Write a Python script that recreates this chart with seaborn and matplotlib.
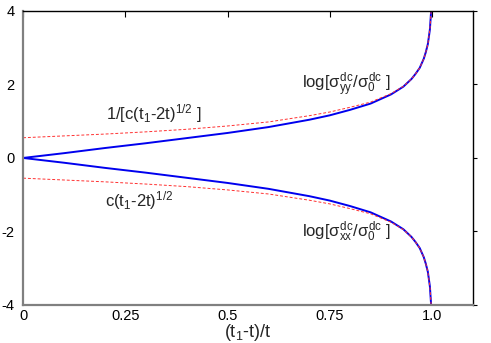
import numpy as np
import pandas as pd
import matplotlib
matplotlib.use("Agg")
import matplotlib.pyplot as plt
import seaborn as sns

# values
x_vals = [0, 0.1, 0.2, 0.3, 0.4, 0.5, 0.6, 0.7, 0.75, 0.8, 0.85, 0.9, 0.93,
          0.95, 0.96, 0.97, 0.98, 0.985, 0.99, 0.995, 0.998]
yy_exact = [0, 0.13, 0.27, 0.40, 0.54, 0.68, 0.84, 1.04, 1.16, 1.31, 1.48, 1.73,
            1.94, 2.15, 2.29, 2.45, 2.70, 2.88, 3.10, 3.50, 4.0]
yy_asym = [0.55, 0.60, 0.65, 0.71, 0.78, 0.87, 0.98, 1.15, 1.25, 1.38, 1.52, 1.75,
           1.95, 2.15, 2.29, 2.45, 2.70, 2.88, 3.10, 3.50, 4.0]
xx_exact = [0, -0.13, -0.27, -0.40, -0.54, -0.68, -0.84, -1.04, -1.16, -1.31, -1.48,
            -1.73, -1.94, -2.15, -2.29, -2.45, -2.70, -2.88, -3.10, -3.50, -4.0]
xx_asym = [-0.55, -0.60, -0.65, -0.71, -0.78, -0.87, -0.98, -1.15, -1.25, -1.38,
           -1.52, -1.75, -1.95, -2.15, -2.29, -2.45, -2.70, -2.88, -3.10, -3.50, -4.0]

xticks = [0, 0.25, 0.5, 0.75, 1.0]
xtick_labels = ["0", "0.25", "0.5", "0.75", "1.0"]
yticks = [-4, -2, 0, 2, 4]
ytick_labels = ["-4", "-2", "0", "2", "4"]

sns.set_style("white")
plt.rcParams['font.family'] = ['Liberation Sans', 'DejaVu Sans']
plt.rcParams['mathtext.fontset'] = 'custom'
plt.rcParams['mathtext.rm'] = 'Liberation Sans'
plt.rcParams['mathtext.it'] = 'Liberation Sans'

df = pd.DataFrame({"x": x_vals, "yy": yy_exact, "yy_a": yy_asym,
                   "xx": xx_exact, "xx_a": xx_asym})

fig = plt.figure(figsize=(4.91, 3.43), dpi=100)
ax = fig.add_axes([0.047, 0.111, 0.916, 0.857])

for col in ["yy", "xx"]:
    sns.lineplot(data=df, x="x", y=col, ax=ax, color="#0000ee", lw=1.4)
for col in ["yy_a", "xx_a"]:
    sns.lineplot(data=df, x="x", y=col, ax=ax, color="#ff3030", lw=0.7,
                 linestyle=(0, (3, 2)))

ax.set_xlim(0, 1.1)
ax.set_ylim(-4, 4)
ax.set_xticks(xticks)
ax.set_xticklabels(xtick_labels)
ax.set_yticks(yticks)
ax.set_yticklabels(ytick_labels)
ax.tick_params(direction="in", length=4, top=True, right=True, labelsize=10.5,
               colors="black", pad=3)
ax.yaxis.set_tick_params(direction="out", length=3, pad=3)
ax.tick_params(axis="y", right=True)
ax.set_xlabel(r"(t$_1$-t)/t", fontsize=13, labelpad=-1)
ax.set_ylabel("")

for side in ["left", "bottom"]:
    ax.spines[side].set_color("#808080")
    ax.spines[side].set_linewidth(1.6)
for side in ["top", "right"]:
    ax.spines[side].set_color("black")
    ax.spines[side].set_linewidth(1.0)

fs = 12
ax.text(0.32, 1.2, r"1/[c(t$_1$-2t)$^{1/2}$ ]", fontsize=fs, ha="center", va="center")
ax.text(0.285, -1.16, r"c(t$_1$-2t)$^{1/2}$", fontsize=fs, ha="center", va="center")
ax.text(0.79, 1.98, r"log[$\sigma^{dc}_{yy}/\sigma^{dc}_{0}$ ]", fontsize=fs,
        ha="center", va="center")
ax.text(0.79, -2.0, r"log[$\sigma^{dc}_{xx}/\sigma^{dc}_{0}$ ]", fontsize=fs,
        ha="center", va="center")

fig.savefig("out.png", dpi=100)
